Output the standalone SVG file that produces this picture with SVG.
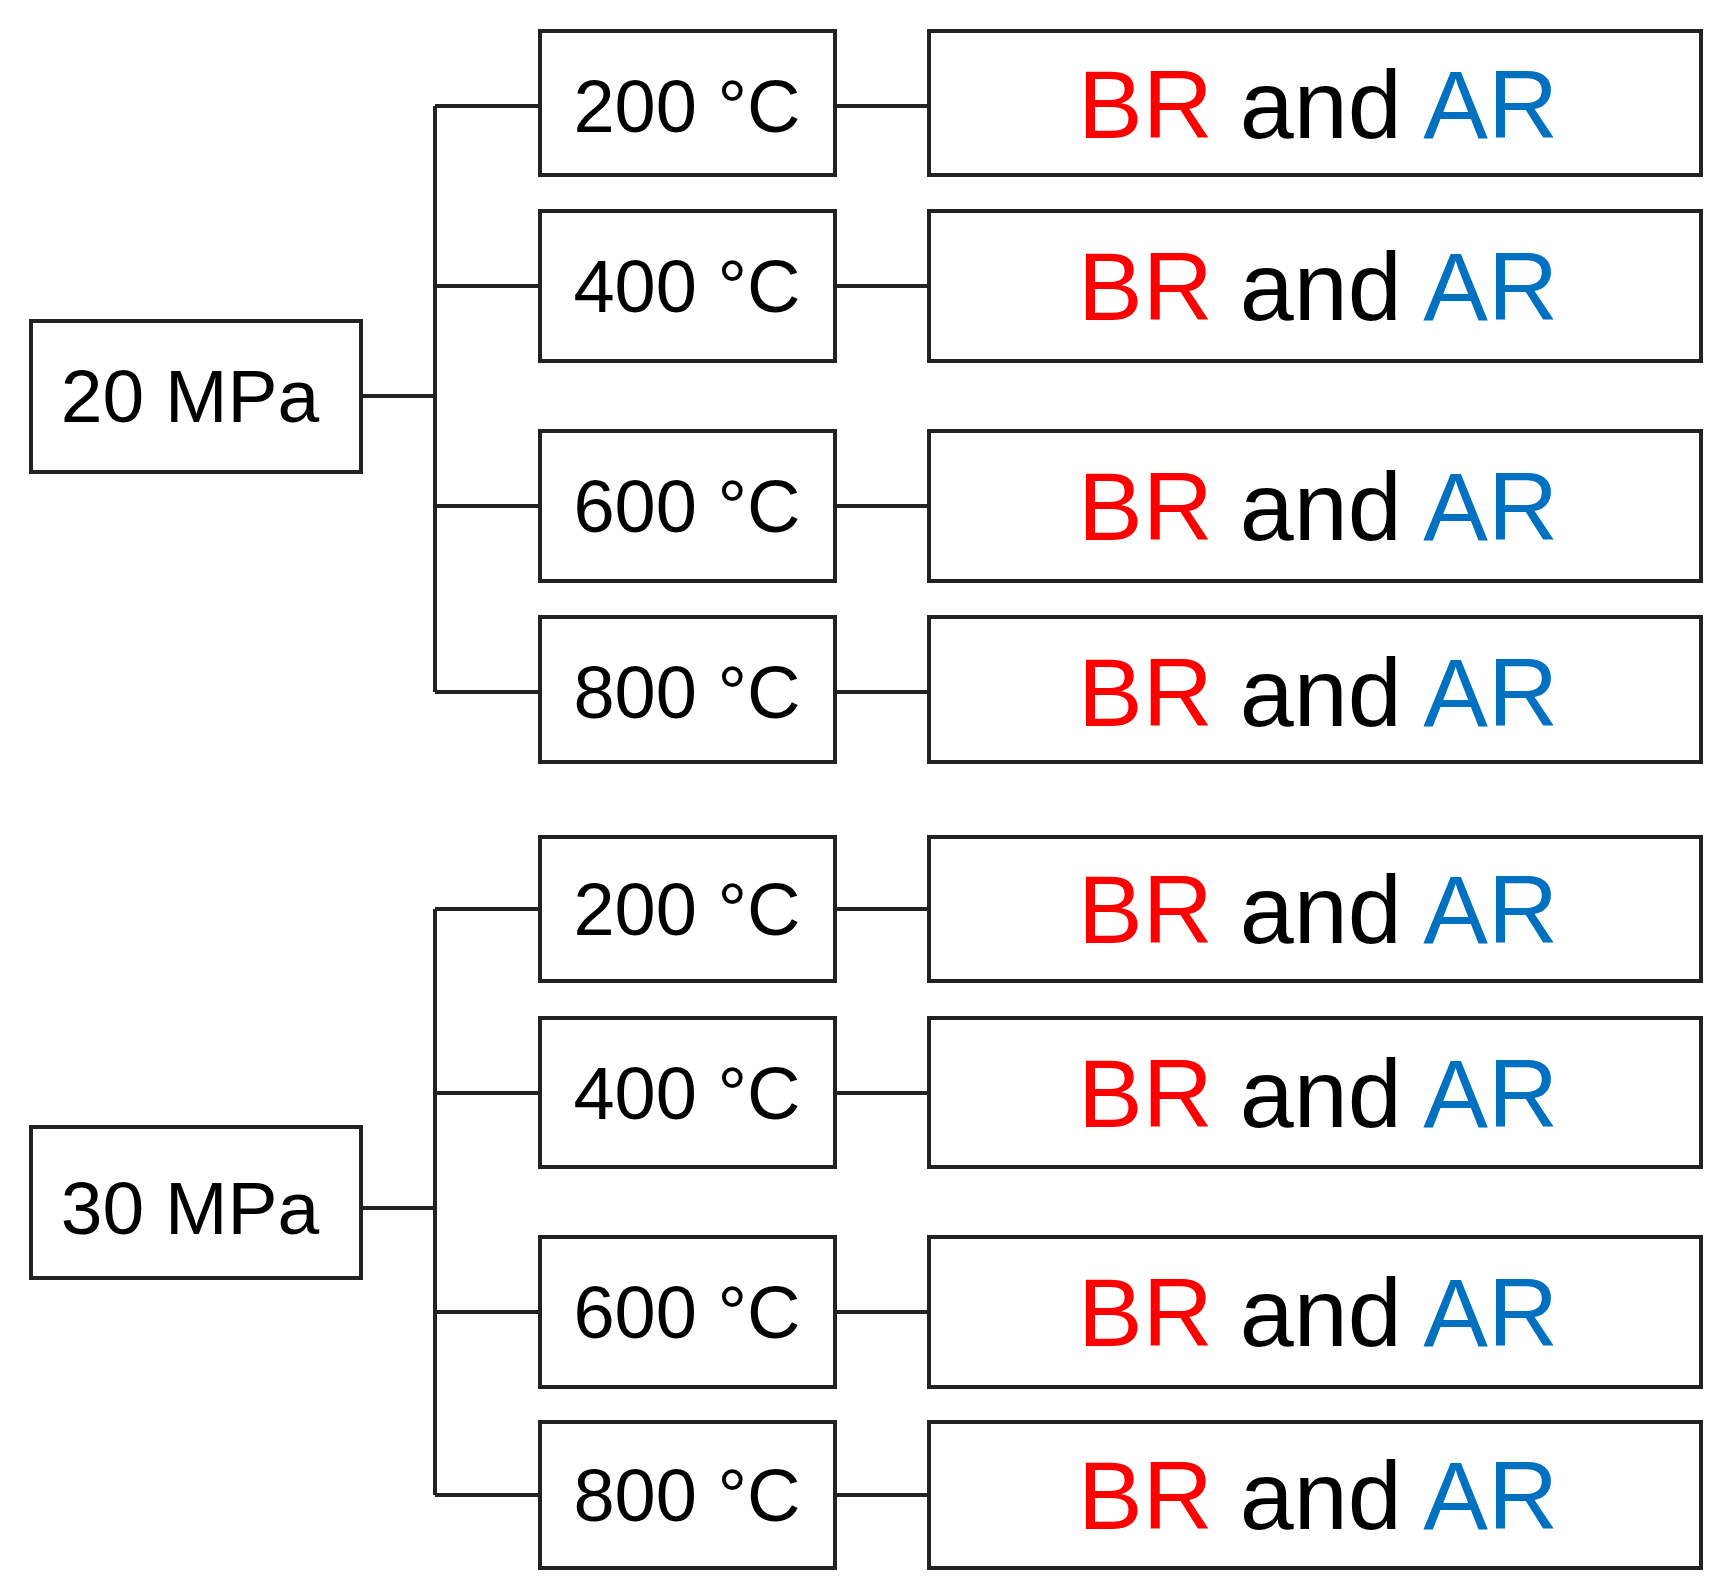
<svg xmlns="http://www.w3.org/2000/svg" width="1720" height="1590" viewBox="0 0 1720 1590">
<style>
rect{fill:#fff;stroke:#222;stroke-width:4}
.c path{fill:none;stroke:#222;stroke-width:4}
text{font-family:"Liberation Sans",Arial,sans-serif;text-anchor:middle;fill:#000}
.p{font-size:75px}.t{font-size:74px}.r{font-size:97px}
.br{fill:#f00}.ar{fill:#0070c0}
</style>
<rect width="1720" height="1590" style="fill:#fff;stroke:none"/>
<g class="c">
<path d="M361 396H435M435 106V692M435 106H540M435 286H540M435 506H540M435 692H540"/>
<path d="M361 1208H435M435 909V1495M435 909H540M435 1093H540M435 1312H540M435 1495H540"/>
<path d="M835 106H929M835 286H929M835 506H929M835 692H929M835 909H929M835 1093H929M835 1312H929M835 1495H929"/>
</g>
<g id="p20"><rect x="31" y="321" width="330" height="151"/><text class="p" x="190" y="422">20 MPa</text></g>
<g id="p30"><rect x="31" y="1127" width="330" height="151"/><text class="p" x="190" y="1234">30 MPa</text></g>
<g id="t1"><rect x="540" y="31" width="295" height="144"/><text class="t" x="687" y="132">200 °C</text></g>
<g id="t2"><rect x="540" y="211" width="295" height="150"/><text class="t" x="687" y="312">400 °C</text></g>
<g id="t3"><rect x="540" y="431" width="295" height="150"/><text class="t" x="687" y="532">600 °C</text></g>
<g id="t4"><rect x="540" y="617" width="295" height="145"/><text class="t" x="687" y="718">800 °C</text></g>
<g id="t5"><rect x="540" y="837" width="295" height="144"/><text class="t" x="687" y="935">200 °C</text></g>
<g id="t6"><rect x="540" y="1018" width="295" height="149"/><text class="t" x="687" y="1119">400 °C</text></g>
<g id="t7"><rect x="540" y="1237" width="295" height="150"/><text class="t" x="687" y="1338">600 °C</text></g>
<g id="t8"><rect x="540" y="1422" width="295" height="146"/><text class="t" x="687" y="1521">800 °C</text></g>
<g id="r1"><rect x="929" y="31" width="772" height="144"/><text class="r" x="1318" y="138"><tspan class="br">BR</tspan> and <tspan class="ar">AR</tspan></text></g>
<g id="r2"><rect x="929" y="211" width="772" height="150"/><text class="r" x="1318" y="320"><tspan class="br">BR</tspan> and <tspan class="ar">AR</tspan></text></g>
<g id="r3"><rect x="929" y="431" width="772" height="150"/><text class="r" x="1318" y="540"><tspan class="br">BR</tspan> and <tspan class="ar">AR</tspan></text></g>
<g id="r4"><rect x="929" y="617" width="772" height="145"/><text class="r" x="1318" y="726"><tspan class="br">BR</tspan> and <tspan class="ar">AR</tspan></text></g>
<g id="r5"><rect x="929" y="837" width="772" height="144"/><text class="r" x="1318" y="943"><tspan class="br">BR</tspan> and <tspan class="ar">AR</tspan></text></g>
<g id="r6"><rect x="929" y="1018" width="772" height="149"/><text class="r" x="1318" y="1127"><tspan class="br">BR</tspan> and <tspan class="ar">AR</tspan></text></g>
<g id="r7"><rect x="929" y="1237" width="772" height="150"/><text class="r" x="1318" y="1346"><tspan class="br">BR</tspan> and <tspan class="ar">AR</tspan></text></g>
<g id="r8"><rect x="929" y="1422" width="772" height="146"/><text class="r" x="1318" y="1529"><tspan class="br">BR</tspan> and <tspan class="ar">AR</tspan></text></g>
</svg>
